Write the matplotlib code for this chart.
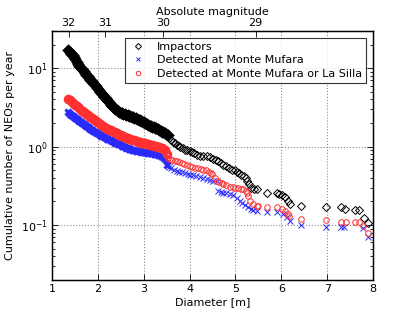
import matplotlib
matplotlib.use("Agg")
import matplotlib.pyplot as plt
import numpy as np

# ---- data ----
impactor_diam = [1.36, 1.39, 1.42, 1.45, 1.48, 1.51, 1.54, 1.57, 1.60, 1.63, 1.66, 1.69, 1.72, 1.75, 1.78,
                 1.81, 1.84, 1.87, 1.90, 1.93, 1.96, 1.99, 2.02, 2.05, 2.08, 2.11, 2.14, 2.17, 2.20, 2.23,
                 2.26, 2.29, 2.32, 2.35, 2.38, 2.41, 2.44, 2.47, 2.50, 2.53, 2.56, 2.59, 2.62, 2.65, 2.68,
                 2.71, 2.74, 2.77, 2.80, 2.83, 2.86, 2.89, 2.92, 2.95, 2.98, 3.01, 3.04, 3.07, 3.10, 3.13,
                 3.16, 3.19, 3.22, 3.25, 3.28, 3.31, 3.34, 3.37, 3.40, 3.43, 3.46, 3.49, 3.52,
                 3.56, 3.60, 3.64, 3.68, 3.72, 3.76, 3.80, 3.85, 3.90, 3.95, 4.00, 4.05, 4.10, 4.16, 4.22,
                 4.30, 4.37, 4.45, 4.52, 4.58, 4.63, 4.68, 4.74, 4.80, 4.86, 4.92, 4.98, 5.03, 5.08, 5.13,
                 5.18, 5.23, 5.26, 5.30, 5.33, 5.40, 5.47, 5.68, 5.90, 5.96, 6.02, 6.08, 6.15, 6.20, 6.43,
                 6.98, 7.30, 7.39, 7.61, 7.70, 7.80, 7.88]
impactor_rate = [17.2, 16.2, 15.4, 14.6, 13.8, 13.0, 12.2, 11.5, 10.8, 10.2, 9.7, 9.2, 8.7, 8.3, 7.9,
                 7.5, 7.1, 6.8, 6.5, 6.2, 5.9, 5.6, 5.3, 5.05, 4.8, 4.55, 4.35, 4.15, 3.95, 3.78,
                 3.6, 3.45, 3.3, 3.15, 3.0, 2.9, 2.82, 2.76, 2.7, 2.66, 2.62, 2.58, 2.54, 2.5, 2.46,
                 2.43, 2.4, 2.36, 2.33, 2.3, 2.27, 2.22, 2.18, 2.13, 2.08, 2.04, 2.0, 1.96, 1.9, 1.86,
                 1.82, 1.79, 1.76, 1.74, 1.72, 1.68, 1.64, 1.6, 1.56, 1.52, 1.49, 1.44, 1.39,
                 1.3, 1.22, 1.15, 1.1, 1.06, 1.03, 1.0, 0.96, 0.92, 0.90, 0.87, 0.85, 0.82, 0.79, 0.77,
                 0.76, 0.755, 0.73, 0.70, 0.67, 0.65, 0.62, 0.59, 0.56, 0.53, 0.51, 0.50, 0.48, 0.46, 0.44,
                 0.42, 0.40, 0.37, 0.33, 0.30, 0.29, 0.29, 0.26, 0.26, 0.25, 0.24, 0.23, 0.20, 0.185, 0.175,
                 0.172, 0.169, 0.16, 0.155, 0.155, 0.122, 0.105]

mufara_diam = [1.36, 1.39, 1.42, 1.45, 1.48, 1.51, 1.54, 1.57, 1.60, 1.63, 1.66, 1.69, 1.72, 1.75, 1.78,
               1.81, 1.84, 1.87, 1.90, 1.93, 1.96, 1.99, 2.02, 2.05, 2.08, 2.11, 2.14, 2.17, 2.20, 2.23,
               2.26, 2.29, 2.32, 2.35, 2.38, 2.41, 2.44, 2.47, 2.50, 2.53, 2.56, 2.59, 2.62, 2.65, 2.68,
               2.71, 2.74, 2.77, 2.80, 2.83, 2.86, 2.89, 2.92, 2.95, 2.98, 3.01, 3.04, 3.07, 3.10, 3.13,
               3.16, 3.19, 3.22, 3.25, 3.28, 3.31, 3.34, 3.37, 3.40, 3.43, 3.46,
               3.50, 3.55, 3.60, 3.66, 3.72, 3.78, 3.84, 3.90, 3.96, 4.01, 4.08, 4.15, 4.22, 4.30, 4.38,
               4.45, 4.52, 4.59, 4.63, 4.68, 4.74, 4.80, 4.88, 4.95, 5.03, 5.10, 5.15, 5.21, 5.28, 5.34,
               5.39, 5.46, 5.68, 5.90, 6.04, 6.12, 6.19, 6.43, 6.97, 7.30, 7.37, 7.79, 7.88]
mufara_rate = [2.75, 2.64, 2.54, 2.45, 2.37, 2.3, 2.23, 2.16, 2.1, 2.04, 1.98, 1.93, 1.88, 1.83, 1.78,
               1.73, 1.68, 1.64, 1.6, 1.56, 1.52, 1.49, 1.45, 1.42, 1.38, 1.35, 1.32, 1.3, 1.27, 1.25,
               1.22, 1.2, 1.17, 1.15, 1.13, 1.11, 1.09, 1.07, 1.05, 1.03, 1.01, 0.99, 0.97, 0.96, 0.945,
               0.93, 0.92, 0.91, 0.9, 0.89, 0.88, 0.875, 0.87, 0.86, 0.855, 0.85, 0.845, 0.84, 0.835, 0.83,
               0.825, 0.82, 0.81, 0.805, 0.8, 0.79, 0.78, 0.77, 0.75, 0.73, 0.7,
               0.58, 0.55, 0.53, 0.51, 0.49, 0.48, 0.47, 0.46, 0.45, 0.44, 0.43, 0.42, 0.41, 0.40, 0.39,
               0.38, 0.37, 0.36, 0.27, 0.265, 0.26, 0.255, 0.25, 0.24, 0.224, 0.203, 0.19, 0.18, 0.168, 0.16,
               0.156, 0.152, 0.148, 0.148, 0.138, 0.125, 0.114, 0.10, 0.095, 0.094, 0.094, 0.092, 0.07]

either_diam = [1.36, 1.39, 1.42, 1.45, 1.48, 1.51, 1.54, 1.57, 1.60, 1.63, 1.66, 1.69, 1.72, 1.75, 1.78,
               1.81, 1.84, 1.87, 1.90, 1.93, 1.96, 1.99, 2.02, 2.05, 2.08, 2.11, 2.14, 2.17, 2.20, 2.23,
               2.26, 2.29, 2.32, 2.35, 2.38, 2.41, 2.44, 2.47, 2.50, 2.53, 2.56, 2.59, 2.62, 2.65, 2.68,
               2.71, 2.74, 2.77, 2.80, 2.83, 2.86, 2.89, 2.92, 2.95, 2.98, 3.01, 3.04, 3.07, 3.10, 3.13,
               3.16, 3.19, 3.22, 3.25, 3.28, 3.31, 3.34, 3.37, 3.40, 3.43, 3.46,
               3.50, 3.54, 3.58, 3.62, 3.68, 3.72, 3.78, 3.84, 3.88, 3.95, 4.01, 4.06, 4.12, 4.18, 4.24,
               4.30, 4.36, 4.42, 4.46, 4.50, 4.55, 4.59, 4.65, 4.70, 4.74, 4.80, 4.88, 4.95, 5.00, 5.06,
               5.12, 5.17, 5.22, 5.25, 5.28, 5.32, 5.39, 5.46, 5.50, 5.68, 5.90, 6.01, 6.08, 6.14, 6.17,
               6.43, 6.97, 7.30, 7.41, 7.61, 7.70, 7.77, 7.88]
either_rate = [4.1, 3.95, 3.8, 3.65, 3.52, 3.4, 3.28, 3.17, 3.07, 2.97, 2.87, 2.77, 2.67, 2.59, 2.51,
               2.44, 2.37, 2.3, 2.23, 2.17, 2.1, 2.04, 1.98, 1.92, 1.87, 1.82, 1.77, 1.73, 1.7, 1.67,
               1.64, 1.61, 1.58, 1.55, 1.52, 1.49, 1.46, 1.43, 1.4, 1.38, 1.35, 1.33, 1.3, 1.28, 1.26,
               1.24, 1.22, 1.21, 1.2, 1.19, 1.18, 1.16, 1.15, 1.13, 1.12, 1.11, 1.1, 1.09, 1.07, 1.06,
               1.05, 1.04, 1.03, 1.02, 1.01, 1.0, 0.99, 0.97, 0.95, 0.93, 0.9,
               0.80, 0.72, 0.69, 0.67, 0.66, 0.65, 0.64, 0.62, 0.61, 0.58, 0.56, 0.55, 0.54, 0.53, 0.52,
               0.51, 0.50, 0.47, 0.46, 0.45, 0.40, 0.36, 0.35, 0.34, 0.33, 0.32, 0.31, 0.31, 0.30, 0.30,
               0.29, 0.285, 0.27, 0.26, 0.235, 0.20, 0.185, 0.176, 0.176, 0.168, 0.168, 0.16, 0.152, 0.138, 0.131,
               0.118, 0.115, 0.111, 0.111, 0.11, 0.11, 0.098, 0.079]

mag_ticks = [32, 31, 30, 29]
mag_labels = ["32", "31", "30", "29"]
x_ticks = [1, 2, 3, 4, 5, 6, 7, 8]

# ---- figure ----
plt.rcParams['font.family'] = ['DejaVu Sans']
plt.rcParams['font.size'] = 8
plt.rcParams['mathtext.default'] = 'regular'

fig = plt.figure(figsize=(4.15, 3.12), dpi=100)
ax = fig.add_axes([0.125, 0.103, 0.774, 0.798])

DENSE_LIMIT = 3.53  # region where the markers pile up into a thick band


def draw(diam, rate, marker, color, ms, label, filled_none=True):
    d = np.asarray(diam)
    r = np.asarray(rate)
    dense = d < DENSE_LIMIT
    kw = dict(linestyle='none', marker=marker, mec=color)
    if filled_none:
        kw['mfc'] = 'none'
    # sparse part: thin outlines
    ax.plot(d[~dense], r[~dense], ms=ms, mew=0.7, label=label, **kw)
    # dense part: heavier outlines so the overlapping markers merge
    ax.plot(d[dense], r[dense], ms=ms + 0.6, mew=2.3, **kw)


draw(impactor_diam, impactor_rate, 'D', 'black', 3.8, 'Impactors')
draw(mufara_diam, mufara_rate, 'x', '#2a2aff', 3.8, 'Detected at Monte Mufara', filled_none=False)
draw(either_diam, either_rate, 'o', '#ff3030', 4.0, 'Detected at Monte Mufara or La Silla')

ax.set_yscale('log')
ax.set_xlim(1, 8)
ax.set_ylim(0.02, 30)
ax.set_xticks(x_ticks)
ax.set_xlabel('Diameter [m]', labelpad=2)
ax.set_ylabel('Cumulative number of NEOs per year', labelpad=4)
ax.grid(True, which='major', color='0.55', linestyle=':', linewidth=0.8)
ax.tick_params(which='both', direction='in', top=True, right=True, labelsize=8, pad=3)
ax.tick_params(which='major', length=4, width=0.6)
ax.tick_params(which='minor', length=2, width=0.6)
for s in ax.spines.values():
    s.set_linewidth(1.0)

leg = ax.legend(loc='upper right', numpoints=1, fontsize=8, fancybox=False,
                markerscale=0.8, borderaxespad=0.6, handletextpad=0.9, labelspacing=0.3,
                borderpad=0.4, handlelength=1.6)
leg.get_frame().set_edgecolor('black')
leg.get_frame().set_linewidth(0.8)

# top axis: absolute magnitude (albedo 0.15)
ax2 = ax.twiny()
ax2.set_xlim(ax.get_xlim())
mag_pos = [1329e3 / np.sqrt(0.15) * 10 ** (-h / 5.0) for h in mag_ticks]
ax2.set_xticks(mag_pos)
ax2.set_xticklabels(mag_labels)
ax2.tick_params(direction='in', length=4, width=0.6, labelsize=8, pad=2)
ax2.set_xlabel('Absolute magnitude', labelpad=2)

fig.savefig('out.png', dpi=100)
